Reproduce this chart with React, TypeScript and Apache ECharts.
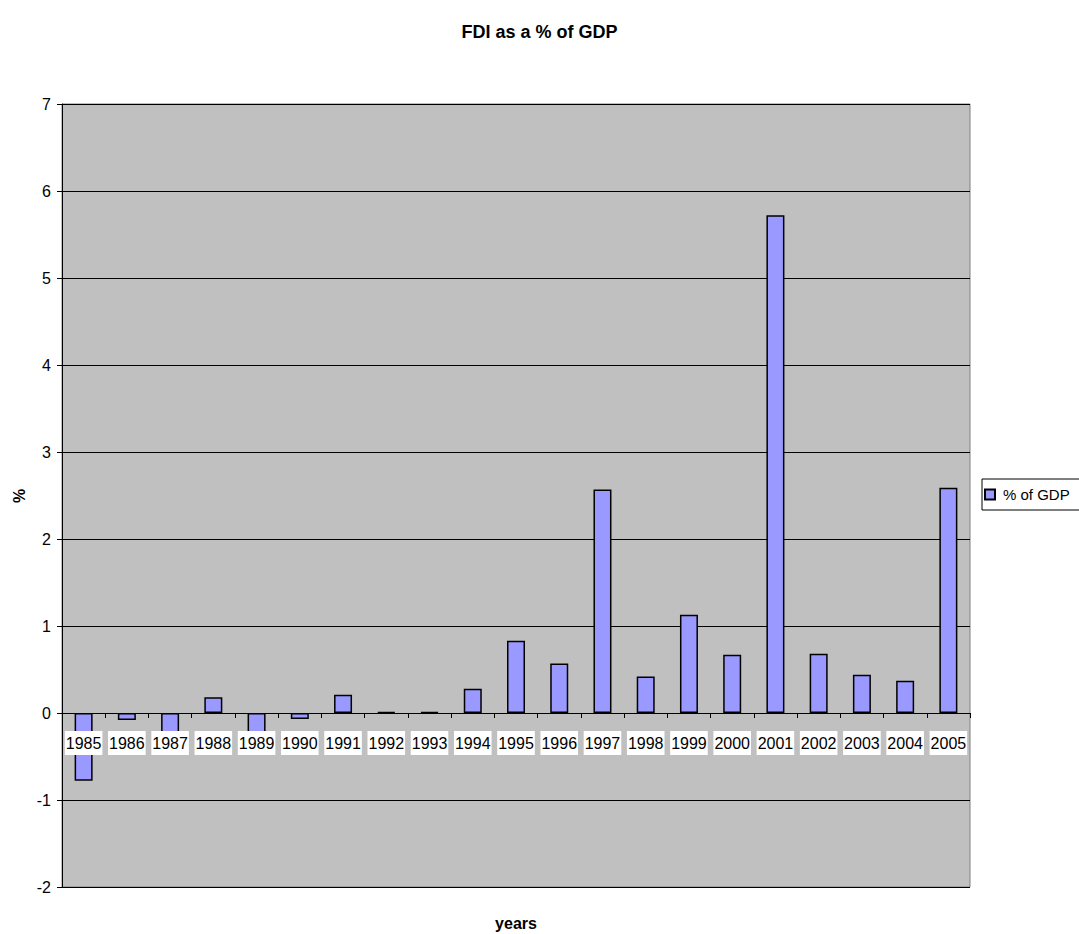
import React, { useEffect, useRef } from "react";
import * as echarts from "echarts";

const years = ["1985","1986","1987","1988","1989","1990","1991","1992","1993","1994","1995","1996","1997","1998","1999","2000","2001","2002","2003","2004","2005"];
const fdiPct = [-0.78,-0.08,-0.25,0.18,-0.23,-0.07,0.21,0.01,0.01,0.28,0.83,0.57,2.57,0.42,1.13,0.67,5.72,0.68,0.44,0.37,2.59];
const titleText = "FDI as a % of GDP";
const seriesName = "% of GDP";
const xName = "years";
const yName = "%";

export default function App() {
  const ref = useRef<HTMLDivElement>(null);
  useEffect(() => {
    const chart = echarts.init(ref.current!, null, { renderer: "svg" });
    const font = "'Liberation Sans', Arial, sans-serif";
    chart.setOption({
      animation: false,
      backgroundColor: "#ffffff",
      textStyle: { fontFamily: font },
      title: {
        text: titleText,
        left: "center",
        top: 18,
        textStyle: { fontFamily: font, fontSize: 18, fontWeight: "bold", color: "#000" },
      },
      legend: {
        left: 982,
        top: 479,
        orient: "vertical",
        backgroundColor: "#ffffff",
        borderColor: "#000",
        borderWidth: 1,
        borderRadius: 0,
        padding: [8, 20, 8, 2],
        itemWidth: 10,
        itemHeight: 10,
        itemGap: 0,
        textStyle: { fontFamily: font, fontSize: 15, color: "#000", padding: [0, 0, 0, 3] },
        data: [{ name: seriesName, icon: "rect" }],
      },
      grid: {
        left: 62,
        right: 109,
        top: 104,
        bottom: 47,
        show: true,
        backgroundColor: "#c0c0c0",
        borderColor: "#808080",
        borderWidth: 1,
      },
      xAxis: {
        type: "category",
        data: years,
        boundaryGap: true,
        offset: -174,
        z: 5,
        axisLine: { onZero: false, lineStyle: { color: "#000", width: 1 } },
        axisTick: { show: true, length: 5, lineStyle: { color: "#000" } },
        axisLabel: {
          interval: 0,
          margin: 18,
          fontFamily: font,
          fontSize: 16,
          color: "#000",
          backgroundColor: "#ffffff",
          padding: [4, 1, 4, 1],
        },
      },
      yAxis: {
        type: "value",
        min: -2,
        max: 7,
        interval: 1,
        axisLine: { show: true, lineStyle: { color: "#000", width: 1 } },
        axisTick: { show: true, length: 5, lineStyle: { color: "#000" } },
        axisLabel: { margin: 11, fontFamily: font, fontSize: 16, color: "#000" },
        splitLine: { show: true, lineStyle: { color: "#000", width: 1 } },
      },
      graphic: [
        {
          type: "text",
          x: 516,
          y: 915,
          style: { text: xName, font: `bold 16px ${font}`, fill: "#000", align: "center", verticalAlign: "top" },
        },
        {
          type: "text",
          x: 11,
          y: 496,
          rotation: Math.PI / 2,
          style: { text: yName, font: `bold 16px ${font}`, fill: "#000", align: "center", verticalAlign: "top" },
        },
      ],
      series: [
        {
          name: seriesName,
          type: "bar",
          data: fdiPct,
          barWidth: 18,
          itemStyle: { color: "#9999ff", borderColor: "#000", borderWidth: 1.5 },
        },
      ],
    });
    return () => chart.dispose();
  }, []);
  return <div ref={ref} style={{ width: 1079, height: 934, position: "absolute", left: 0, top: 0 }} />;
}
